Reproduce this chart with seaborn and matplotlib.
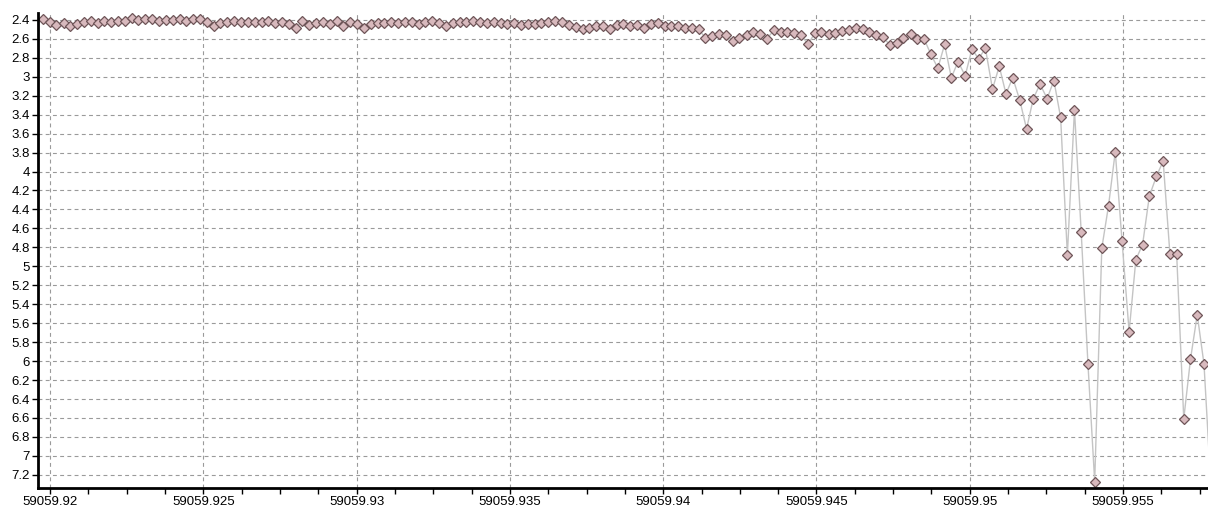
import matplotlib
matplotlib.use("Agg")
import matplotlib.pyplot as plt
import matplotlib.ticker as mticker
import seaborn as sns
import pandas as pd

# seconds relative to MJD 59059.92
t_sec = [
    -20, -1, 18, 38, 57, 76, 95, 115,
    134, 153, 172, 192, 211, 230, 249, 269,
    288, 307, 326, 346, 365, 384, 403, 423,
    442, 461, 480, 500, 519, 538, 557, 577,
    596, 615, 634, 654, 673, 692, 711, 731,
    750, 769, 788, 808, 827, 846, 865, 885,
    904, 923, 942, 962, 981, 1000, 1019, 1039,
    1058, 1077, 1096, 1116, 1135, 1154, 1173, 1193,
    1212, 1231, 1250, 1270, 1289, 1308, 1327, 1347,
    1366, 1385, 1404, 1424, 1443, 1462, 1481, 1501,
    1520, 1539, 1558, 1578, 1597, 1616, 1635, 1655,
    1674, 1693, 1712, 1732, 1751, 1770, 1789, 1809,
    1828, 1847, 1866, 1886, 1905, 1924, 1943, 1963,
    1982, 2001, 2020, 2040, 2059, 2078, 2097, 2117,
    2136, 2155, 2174, 2194, 2213, 2232, 2251, 2271,
    2290, 2309, 2328, 2348, 2367, 2386, 2405, 2425,
    2444, 2463, 2482, 2502, 2521, 2540, 2559, 2579,
    2598, 2617, 2636, 2656, 2675, 2694, 2713, 2733,
    2752, 2771, 2790, 2810, 2829, 2848, 2867, 2887,
    2906, 2925, 2944, 2964, 2983, 3002, 3021, 3041,
    3060, 3079, 3098, 3118, 3137, 3156, 3175, 3195,
    3214, 3233, 3252, 3272,
]

mag = [
    2.39, 2.42, 2.45, 2.43, 2.46, 2.44, 2.42, 2.41, 2.43, 2.41,
    2.42, 2.41, 2.41, 2.38, 2.40, 2.39, 2.39, 2.41, 2.40, 2.40,
    2.39, 2.41, 2.39, 2.39, 2.42, 2.47, 2.43, 2.42, 2.41, 2.42,
    2.42, 2.42, 2.42, 2.41, 2.43, 2.42, 2.44, 2.49, 2.41, 2.45,
    2.43, 2.42, 2.44, 2.41, 2.47, 2.42, 2.44, 2.49, 2.44, 2.43,
    2.43, 2.42, 2.43, 2.42, 2.42, 2.44, 2.42, 2.41, 2.43, 2.46,
    2.43, 2.42, 2.42, 2.41, 2.42, 2.43, 2.42, 2.43, 2.44, 2.43,
    2.45, 2.44, 2.44, 2.43, 2.42, 2.41, 2.42, 2.45, 2.48, 2.50,
    2.49, 2.46, 2.46, 2.50, 2.45, 2.44, 2.46, 2.45, 2.49, 2.44,
    2.43, 2.46, 2.47, 2.47, 2.49, 2.49, 2.50, 2.59, 2.57, 2.55,
    2.56, 2.62, 2.59, 2.56, 2.53, 2.55, 2.60, 2.51, 2.53, 2.53,
    2.54, 2.56, 2.66, 2.54, 2.53, 2.55, 2.54, 2.52, 2.51, 2.49,
    2.50, 2.53, 2.56, 2.58, 2.67, 2.64, 2.59, 2.55, 2.60, 2.60,
    2.76, 2.91, 2.66, 3.01, 2.84, 2.99, 2.71, 2.81, 2.70, 3.13,
    2.89, 3.18, 3.01, 3.25, 3.55, 3.23, 3.08, 3.23, 3.04, 3.43,
    4.88, 3.35, 4.64, 6.03, 7.27, 4.81, 4.36, 3.79, 4.73, 5.69,
    4.93, 4.77, 4.26, 4.05, 3.89, 4.87, 4.87, 6.61, 5.98, 5.51,
    6.03, 7.35,
]

df = pd.DataFrame({"mjd": [59059.92 + t / 86400 for t in t_sec], "mag": mag})

sns.set_style("white")
plt.rcParams["font.family"] = ["Liberation Sans", "DejaVu Sans"]

fig = plt.figure(figsize=(12.08, 5.13), dpi=100)
ax = fig.add_axes([0.0315, 0.049, 0.9685, 0.926])

sns.lineplot(data=df, x="mjd", y="mag", ax=ax, sort=False,
             color="#c4c4c4", linewidth=1.0,
             marker="D", markersize=4.8, markerfacecolor="#d8b9bd",
             markeredgecolor="#6e5558", markeredgewidth=0.9)

ax.set_xlim(59059.919609, 59059.95777)
ax.set_ylim(7.337, 2.326)

ax.xaxis.set_major_locator(mticker.MultipleLocator(0.005))
ax.xaxis.set_minor_locator(mticker.MultipleLocator(0.00125))
ax.xaxis.set_major_formatter(mticker.FuncFormatter(lambda v, p: f"{v:.3f}".rstrip("0")))
ax.yaxis.set_major_locator(mticker.MultipleLocator(0.2))
ax.yaxis.set_major_formatter(mticker.FuncFormatter(lambda v, p: f"{v:.1f}".rstrip("0").rstrip(".")))

ax.grid(True, which="major", color="#9a9a9a", linestyle=(0, (3.5, 3)), linewidth=0.8)
ax.set_axisbelow(True)

for s in ["top", "right"]:
    ax.spines[s].set_visible(False)
for s in ["left", "bottom"]:
    ax.spines[s].set_color("black")
    ax.spines[s].set_linewidth(2)

ax.tick_params(axis="both", which="major", labelsize=9.5, length=4, width=1, color="black",
               labelcolor="black", pad=2, bottom=True, left=True)
ax.tick_params(axis="x", which="minor", length=4, width=1, color="black", bottom=True)
ax.set_xlabel("")
ax.set_ylabel("")

fig.savefig("out.png", dpi=100)
